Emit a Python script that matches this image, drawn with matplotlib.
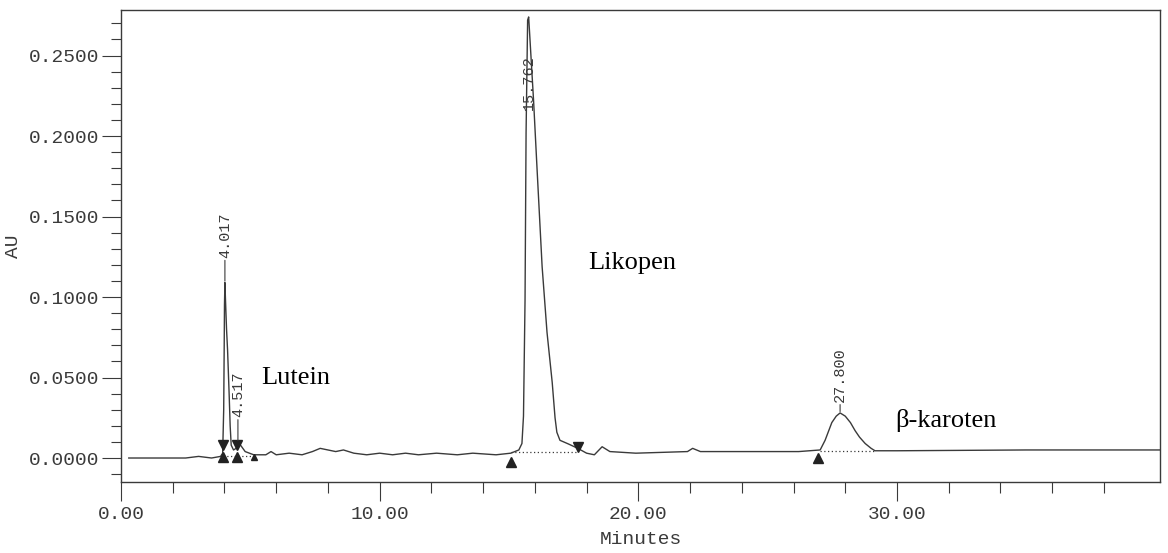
import numpy as np
import matplotlib
matplotlib.use("Agg")
import matplotlib.pyplot as plt
from matplotlib.ticker import MultipleLocator, FixedLocator, FormatStrFormatter

# detector trace (minutes, AU)
trace_min = [0.3, 2.5, 3.0, 3.5, 3.85,
             3.93, 3.97, 3.99, 4.00, 4.017, 4.04, 4.08, 4.12, 4.18, 4.22, 4.26,
             4.35, 4.45, 4.52, 4.62, 4.80, 5.13,
             5.6, 5.8, 6.0, 6.5, 7.0, 7.4, 7.7, 8.0, 8.3, 8.6, 9.0, 9.5, 10.0,
             10.5, 11.0, 11.5, 12.2, 13.0, 13.6, 14.5, 15.07,
             15.38, 15.50, 15.56, 15.62, 15.66, 15.72, 15.76,
             15.95, 16.08, 16.28, 16.47, 16.67, 16.78, 16.85, 16.97, 17.30, 17.66,
             18.0, 18.3, 18.6, 18.9, 19.9, 21.9, 22.1, 22.4, 24.0, 26.2,
             27.03, 27.22, 27.48, 27.65, 27.80, 28.0, 28.2, 28.38, 28.55, 28.77,
             29.0, 29.15, 30.0, 35.0, 40.2]
trace_au = [0.000, 0.000, 0.001, 0.000, 0.001,
            0.003, 0.030, 0.070, 0.095, 0.109, 0.098, 0.080, 0.067, 0.040, 0.020, 0.008,
            0.005, 0.006, 0.010, 0.008, 0.004, 0.002,
            0.002, 0.004, 0.002, 0.003, 0.002, 0.004, 0.006, 0.005, 0.004, 0.005, 0.003, 0.002, 0.003,
            0.002, 0.003, 0.002, 0.003, 0.002, 0.003, 0.002, 0.003,
            0.005, 0.009, 0.026, 0.098, 0.202, 0.272, 0.274,
            0.222, 0.181, 0.119, 0.078, 0.047, 0.025, 0.016, 0.011, 0.0087, 0.006,
            0.003, 0.002, 0.007, 0.004, 0.003, 0.004, 0.006, 0.004, 0.004, 0.004,
            0.005, 0.011, 0.022, 0.026, 0.028, 0.026, 0.022, 0.017, 0.013, 0.009,
            0.006, 0.0045, 0.0045, 0.005, 0.005]

# retention time labels
peak_labels = ["4.017", "4.517", "15.762", "27.800"]
peak_min = [4.017, 4.52, 15.76, 27.80]
peak_au = [0.109, 0.010, 0.216, 0.028]

# integration start / end marks
mark_down_min = [3.93, 4.47, 17.66]
mark_down_au = [0.008, 0.008, 0.007]
mark_up_min = [3.93, 4.47, 15.07, 26.95]
mark_up_au = [0.0006, 0.0006, -0.0025, -0.0002]
small_up_min = [5.13]
small_up_au = [0.0006]

# integration baselines
base_start = [3.93, 15.07, 27.03]
base_end = [5.13, 17.66, 29.15]
base_au = [0.001, 0.004, 0.0045]

# compound names
names = ["Lutein", "Likopen", "\u03b2-karoten"]
name_min = [5.43, 18.05, 29.92]
name_au = [0.0497, 0.121, 0.0236]

# axis ticks
x_major = [0, 10, 20, 30]
x_minor = [2, 4, 6, 8, 12, 14, 16, 18, 22, 24, 26, 28, 32, 34, 36, 38]

mono = "Liberation Mono"
serif = "Liberation Serif"
ink = "#3a3a3a"

fig = plt.figure(figsize=(11.68, 5.53), dpi=100)
ax = fig.add_axes([0.1036, 0.1284, 0.8896, 0.8535])

ax.plot(trace_min, trace_au, color=ink, lw=1.0)

for s, e, b in zip(base_start, base_end, base_au):
    ax.plot([s, e], [b, b], color=ink, lw=0.9, ls=(0, (1, 2)))

ax.plot(mark_down_min, mark_down_au, "v", color="#222222", ms=7, ls="none")
ax.plot(mark_up_min, mark_up_au, "^", color="#222222", ms=7, ls="none")
ax.plot(small_up_min, small_up_au, "^", color="#222222", ms=5, ls="none")

# leader tick + rotated retention time
for lab, t, a in zip(peak_labels, peak_min, peak_au):
    if lab == "15.762":
        ax.text(t, a, lab, rotation=90, ha="center", va="bottom",
                family=mono, fontsize=11, color=ink)
        continue
    gap = 8 if lab == "27.800" else 18
    ax.annotate(lab, xy=(t, a), xytext=(0, gap), textcoords="offset points",
                rotation=90, ha="center", va="bottom", family=mono,
                fontsize=11, color=ink,
                arrowprops=dict(arrowstyle="-", color=ink, lw=0.8,
                                shrinkA=0, shrinkB=1))

for n, t, a in zip(names, name_min, name_au):
    ax.text(t, a, n, ha="left", va="center", family=serif, fontsize=19,
            color="black")

ax.set_xlim(0, 40.17)
ax.set_ylim(-0.0149, 0.2783)

ax.xaxis.set_major_locator(FixedLocator(x_major))
ax.xaxis.set_minor_locator(FixedLocator(x_minor))
ax.xaxis.set_major_formatter(FormatStrFormatter("%.2f"))
ax.yaxis.set_major_locator(MultipleLocator(0.05))
ax.yaxis.set_minor_locator(MultipleLocator(0.01))
ax.yaxis.set_major_formatter(FormatStrFormatter("%.4f"))

ax.tick_params(axis="both", which="major", direction="out", color=ink,
               labelcolor=ink, width=0.8)
ax.tick_params(axis="x", which="major", length=14, pad=3)
ax.tick_params(axis="x", which="minor", length=8, width=0.8, color=ink)
ax.tick_params(axis="y", which="major", length=14, pad=1.5)
ax.tick_params(axis="y", which="minor", length=7, width=0.8, color=ink)

for lab in ax.get_xticklabels() + ax.get_yticklabels():
    lab.set_family(mono)
    lab.set_fontsize(14)

for sp in ax.spines.values():
    sp.set_color(ink)
    sp.set_linewidth(1.0)

ax.set_xlabel("Minutes", family=mono, fontsize=14, color=ink)
ax.set_ylabel("AU", family=mono, fontsize=14, color=ink)
ax.xaxis.set_label_coords(0.5, -0.104)
ax.yaxis.set_label_coords(-0.095, 0.5)

fig.savefig("out.png", dpi=100, facecolor="white")
